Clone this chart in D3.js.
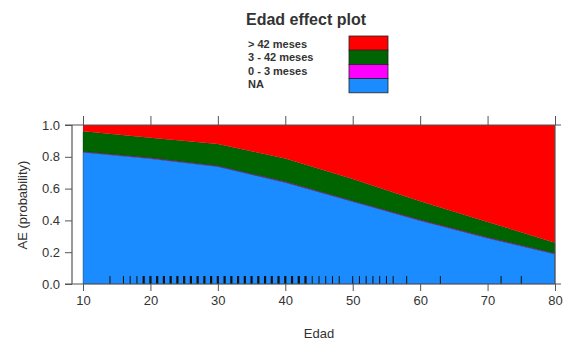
<head>
<script src="https://d3js.org/d3.v7.min.js"></script>
<style>
body { margin: 0; background: #fff; }
text { font-family: "Liberation Sans", Arial, sans-serif; fill: #333; }
</style>
</head>
<body>
<script>
// values
const ages = [10, 20, 30, 40, 50, 60, 70, 80]
const categories = ['NA', '0 - 3 meses', '3 - 42 meses', '> 42 meses']
const probNA = [0.83, 0.79, 0.74, 0.64, 0.52, 0.40, 0.29, 0.19]
const prob0_3 = [0.004, 0.004, 0.004, 0.004, 0.004, 0.004, 0.004, 0.004]
const prob3_42 = [0.126, 0.126, 0.136, 0.146, 0.136, 0.116, 0.096, 0.066]
const prob42 = [0.04, 0.08, 0.12, 0.21, 0.34, 0.48, 0.61, 0.74]
const colors = ['#1a8cff', '#ff00ff', '#006400', '#ff0000']
const xTicks = [10, 20, 30, 40, 50, 60, 70, 80]
const yTicks = [0, 0.2, 0.4, 0.6, 0.8, 1.0]
const rugAges = [14, 16, 17, 18, 19, 20, 21, 22, 23, 24, 25, 26, 27, 28, 29, 30, 31, 32, 33, 34, 35, 36,
  37, 38, 39, 40, 41, 42, 43, 44, 45, 46, 47, 48, 50, 51, 52, 53, 54, 55, 56, 58, 63, 72, 75]

const width = 563, height = 343
const svg = d3.select('body').append('svg')
  .attr('width', width).attr('height', height)

const x = d3.scaleLinear().domain([10, 80]).range([83, 555])
const y = d3.scaleLinear().domain([0, 1]).range([284, 125])
const frameLeft = 72

const table = ages.map((a, i) => ({
  age: a, 'NA': probNA[i], '0 - 3 meses': prob0_3[i], '3 - 42 meses': prob3_42[i], '> 42 meses': prob42[i]
}))
const stack = d3.stack().keys(categories)(table)

const area = d3.area()
  .x(d => x(d.data.age))
  .y0(d => y(d[0]))
  .y1(d => y(Math.min(d[1], 1)))

svg.append('g').selectAll('path')
  .data(stack)
  .enter().append('path')
  .attr('d', area)
  .attr('fill', (d, i) => colors[i])
  .attr('stroke', (d, i) => i < 3 ? '#222' : 'none')
  .attr('stroke-width', 0.6)
  .attr('stroke-opacity', 0.6)

// rug
svg.append('g').selectAll('line')
  .data(rugAges)
  .enter().append('line')
  .attr('x1', d => x(d)).attr('x2', d => x(d))
  .attr('y1', y(0)).attr('y2', y(0) - 8)
  .attr('stroke', '#111')
  .attr('stroke-width', d => (d >= 19 && d <= 43) ? 2.2 : 1)

// frame
const frame = svg.append('g').attr('stroke', '#555').attr('stroke-width', 1.2).attr('fill', 'none')
frame.append('line').attr('x1', frameLeft).attr('x2', frameLeft).attr('y1', y(1)).attr('y2', y(0))
frame.append('line').attr('x1', frameLeft - 7).attr('x2', x(80) + 6).attr('y1', y(0)).attr('y2', y(0))
frame.append('line').attr('x1', frameLeft - 7).attr('x2', x(80) + 6).attr('y1', y(1)).attr('y2', y(1))
frame.append('line').attr('x1', x(80)).attr('x2', x(80)).attr('y1', y(1)).attr('y2', y(0))

// bottom axis
const xAxis = svg.append('g').attr('transform', 'translate(0,' + y(0) + ')')
  .call(d3.axisBottom(x).tickValues(xTicks).tickSize(7).tickPadding(5))
xAxis.select('.domain').remove()
xAxis.selectAll('line').attr('stroke', '#555')
xAxis.selectAll('text').attr('font-size', 13).attr('fill', '#333')

// top ticks
svg.append('g').attr('transform', 'translate(0,' + y(1) + ')')
  .call(d3.axisTop(x).tickValues(xTicks).tickSize(9).tickFormat(''))
  .call(g => g.select('.domain').remove())
  .selectAll('line').attr('stroke', '#555')

// left axis
const yAxis = svg.append('g').attr('transform', 'translate(' + frameLeft + ',0)')
  .call(d3.axisLeft(y).tickValues(yTicks).tickFormat(d3.format('.1f')).tickSize(7).tickPadding(5))
yAxis.select('.domain').remove()
yAxis.selectAll('line').attr('stroke', '#555')
yAxis.selectAll('text').attr('font-size', 13).attr('fill', '#333')

// axis titles
svg.append('text').attr('x', 319).attr('y', 338).attr('text-anchor', 'middle')
  .attr('font-size', 13).text('Edad')
svg.append('text').attr('transform', 'translate(27,' + 205 + ') rotate(-90)')
  .attr('text-anchor', 'middle').attr('font-size', 13).text('AE (probability)')

// title
svg.append('text').attr('x', 306).attr('y', 25).attr('text-anchor', 'middle')
  .attr('font-size', 16).attr('font-weight', 'bold').attr('fill', '#111').text('Edad effect plot')

// legend (top to bottom: reversed stack order)
const legendOrder = categories.slice().reverse()
const legendColors = colors.slice().reverse()
const lg = svg.append('g')
legendOrder.forEach((c, i) => {
  lg.append('rect').attr('x', 349).attr('y', 36 + i * 14.2).attr('width', 39).attr('height', 14.2)
    .attr('fill', legendColors[i]).attr('stroke', '#222').attr('stroke-width', 0.8)
  lg.append('text').attr('x', 248).attr('y', 48 + i * 13.3)
    .attr('font-size', 11).attr('font-weight', 'bold').attr('fill', '#444').text(c)
})
</script>
</body>
